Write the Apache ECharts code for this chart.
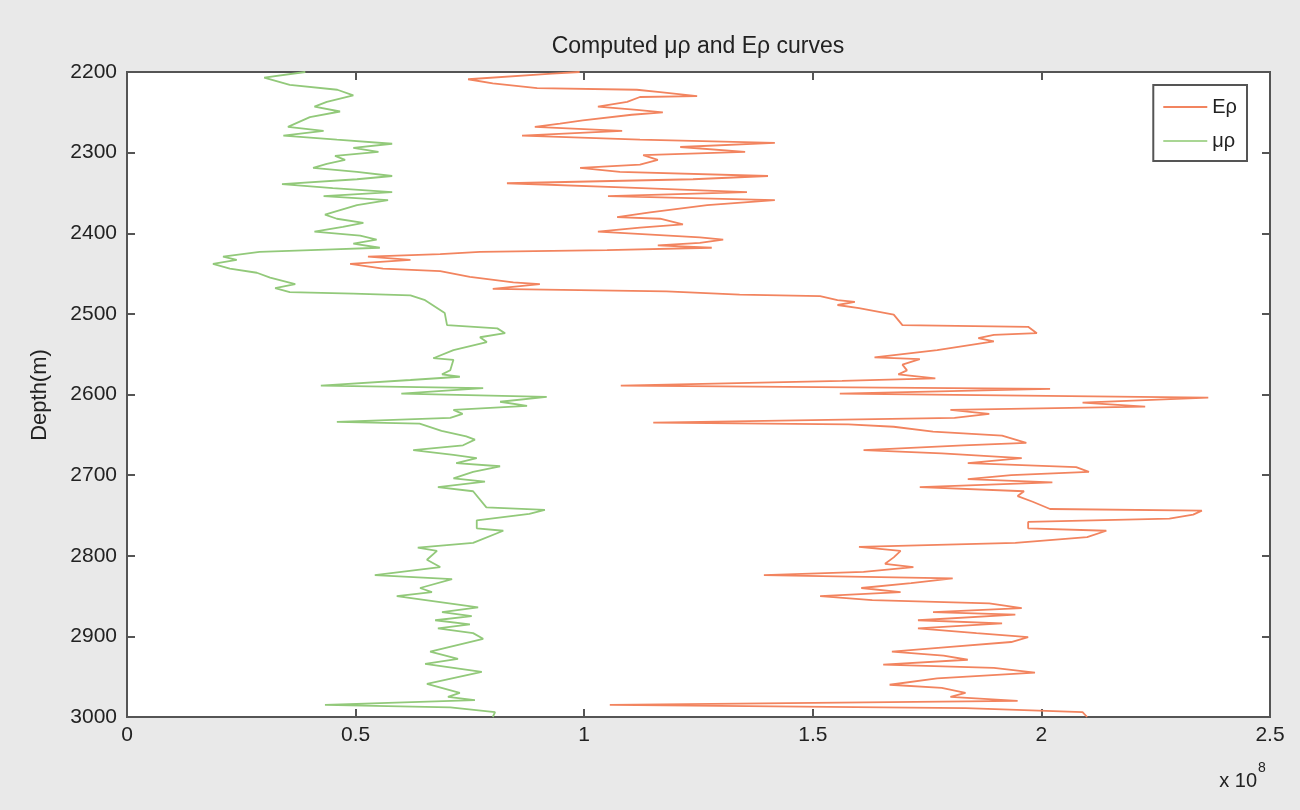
<!DOCTYPE html>
<html>
<head>
<meta charset="utf-8">
<script src="https://cdn.jsdelivr.net/npm/echarts@6/dist/echarts.min.js"></script>
<style>
html,body{margin:0;padding:0;background:#e9e9e9;}
#chart{width:1300px;height:810px;}
</style>
</head>
<body>
<div id="chart"></div>
<script>
// Values in units of 1e8 (axis shows "x 10^8"), depth in metres
const xTicks = [0, 0.5, 1, 1.5, 2, 2.5];
const yTicks = [2200, 2300, 2400, 2500, 2600, 2700, 2800, 2900, 3000];

const eDepth = [2200,2202,2209,2214,2220,2222,2225,2230,2231,2237,2243,2247,2250,2253,2260,2264,2268,2273,2279,2284,2288,2293,2299,2303,2309,2315,2319,2324,2329,2333,2338,2343,2349,2354,2359,2365,2374,2380,2382,2389,2393,2398,2405,2408,2412,2415,2418,2421,2423,2426,2429,2433,2438,2444,2447,2454,2461,2463,2469,2472,2476,2478,2483,2485,2489,2493,2501,2514,2516,2524,2526,2530,2534,2545,2554,2556,2563,2570,2575,2580,2583,2589,2593,2599,2604,2610,2615,2619,2624,2629,2635,2637,2640,2646,2651,2660,2663,2669,2673,2679,2685,2690,2696,2700,2705,2709,2715,2720,2726,2733,2742,2744,2749,2754,2758,2766,2769,2777,2784,2789,2794,2802,2810,2814,2820,2824,2828,2834,2840,2845,2850,2855,2859,2865,2870,2873,2880,2884,2890,2896,2901,2907,2913,2919,2924,2929,2935,2939,2945,2952,2960,2964,2970,2975,2980,2985,2989,2994,3000];
const eVal = [0.99,0.93,0.746,0.80,0.897,1.115,1.166,1.247,1.122,1.094,1.03,1.115,1.172,1.104,0.997,0.947,0.892,1.083,0.864,1.122,1.417,1.21,1.352,1.129,1.161,1.122,0.991,1.078,1.402,1.238,0.831,1.083,1.356,1.052,1.417,1.269,1.144,1.072,1.166,1.216,1.122,1.03,1.253,1.304,1.253,1.161,1.279,1.05,0.772,0.685,0.527,0.62,0.488,0.56,0.685,0.75,0.845,0.903,0.80,1.18,1.34,1.516,1.554,1.592,1.554,1.601,1.677,1.696,1.971,1.990,1.896,1.862,1.896,1.772,1.635,1.734,1.696,1.706,1.687,1.768,1.564,1.080,2.019,1.559,2.365,2.090,2.227,1.801,1.886,1.810,1.151,1.578,1.677,1.763,1.914,1.967,1.829,1.611,1.782,1.957,1.839,2.076,2.104,1.934,1.839,2.024,1.734,1.962,1.948,1.981,2.019,2.351,2.332,2.280,1.971,1.971,2.142,2.100,1.943,1.601,1.692,1.677,1.658,1.720,1.611,1.393,1.806,1.715,1.606,1.692,1.516,1.630,1.886,1.957,1.763,1.943,1.730,1.914,1.730,1.858,1.971,1.934,1.801,1.673,1.786,1.839,1.654,1.896,1.986,1.772,1.668,1.782,1.834,1.801,1.948,1.056,1.834,2.090,2.10];

const muDepth = [2200,2207,2216,2222,2229,2237,2243,2249,2256,2268,2273,2279,2284,2289,2294,2299,2304,2309,2314,2319,2324,2329,2333,2339,2344,2349,2354,2359,2365,2377,2382,2387,2392,2398,2403,2408,2413,2418,2420,2423,2429,2433,2438,2444,2449,2455,2463,2468,2473,2475,2477,2483,2487,2499,2514,2518,2524,2529,2535,2545,2555,2557,2570,2575,2578,2582,2589,2592,2599,2603,2609,2614,2619,2624,2629,2634,2636,2645,2652,2656,2663,2669,2675,2679,2685,2689,2696,2704,2708,2715,2720,2740,2743,2748,2756,2766,2769,2784,2790,2794,2805,2814,2824,2829,2840,2845,2850,2864,2870,2875,2880,2885,2890,2896,2903,2919,2928,2934,2944,2959,2970,2975,2979,2985,2988,2994,3000];
const muVal = [0.39,0.30,0.356,0.46,0.495,0.437,0.41,0.466,0.40,0.352,0.43,0.342,0.459,0.58,0.495,0.55,0.455,0.477,0.437,0.407,0.503,0.58,0.503,0.339,0.45,0.58,0.43,0.571,0.503,0.433,0.459,0.517,0.472,0.41,0.51,0.546,0.495,0.553,0.45,0.29,0.21,0.24,0.188,0.225,0.284,0.313,0.368,0.324,0.356,0.495,0.62,0.652,0.663,0.695,0.70,0.81,0.827,0.772,0.787,0.714,0.67,0.714,0.707,0.689,0.728,0.62,0.424,0.779,0.60,0.918,0.816,0.875,0.714,0.734,0.707,0.459,0.64,0.688,0.742,0.761,0.735,0.626,0.714,0.765,0.72,0.816,0.757,0.714,0.783,0.68,0.757,0.786,0.914,0.88,0.765,0.765,0.823,0.757,0.636,0.678,0.656,0.685,0.542,0.711,0.641,0.667,0.59,0.768,0.689,0.754,0.674,0.75,0.68,0.757,0.779,0.663,0.724,0.652,0.776,0.656,0.728,0.702,0.761,0.433,0.707,0.805,0.80];

const pair = (v, d) => v.map((x, i) => [x, d[i]]);

const chart = echarts.init(document.getElementById('chart'), null, {renderer: 'canvas'});
const FONT = 'Liberation Sans, Arial, Helvetica, sans-serif';
const AX = '#555555';

const mkLine = () => ({show: true, onZero: false, lineStyle: {color: AX, width: 2}});
const mkTick = (inside) => ({show: true, inside: inside, length: 8, lineStyle: {color: AX, width: 2}});
const gridRect = {left: 127, right: 30, top: 72, bottom: 93};

chart.setOption({
  animation: false,
  backgroundColor: '#e9e9e9',
  grid: [
    Object.assign({show: true, backgroundColor: '#ffffff', borderColor: AX, borderWidth: 2}, gridRect),
    Object.assign({show: false}, gridRect)
  ],
  legend: {
    data: ['Eρ', 'μρ'],
    orient: 'vertical',
    right: 53, top: 85,
    padding: [12, 10, 10, 10],
    itemGap: 14,
    itemWidth: 44, itemHeight: 2,
    icon: 'rect',
    backgroundColor: '#ffffff',
    borderColor: AX, borderWidth: 2,
    textStyle: {fontFamily: FONT, fontSize: 20, color: '#222'}
  },
  xAxis: [
    {type: 'value', gridIndex: 0, position: 'bottom', min: 0, max: 2.5, interval: 0.5,
      axisLine: mkLine(), splitLine: {show: false}, axisTick: mkTick(true),
      axisLabel: {fontFamily: FONT, fontSize: 21, color: '#222', margin: 8, formatter: v => String(v)}},
    {type: 'value', gridIndex: 1, position: 'top', min: 0, max: 2.5, interval: 0.5,
      axisLine: mkLine(), splitLine: {show: false}, axisTick: mkTick(true),
      axisLabel: {show: false}}
  ],
  yAxis: [
    {type: 'value', gridIndex: 0, position: 'left', inverse: true, min: 2200, max: 3000, interval: 100,
      axisLine: mkLine(), splitLine: {show: false}, axisTick: mkTick(true),
      axisLabel: {fontFamily: FONT, fontSize: 21, color: '#222', margin: 10, formatter: v => String(v)}},
    {type: 'value', gridIndex: 1, position: 'right', inverse: true, min: 2200, max: 3000, interval: 100,
      axisLine: mkLine(), splitLine: {show: false}, axisTick: mkTick(true),
      axisLabel: {show: false}},
    // tick-only axis that sits on the zero line of the x axis (the left edge), ticks pointing into the plot
    {type: 'value', gridIndex: 0, position: 'right', inverse: true, min: 2200, max: 3000, interval: 100,
      axisLine: {show: false, onZero: true}, splitLine: {show: false}, axisTick: mkTick(false),
      axisLabel: {show: false}}
  ],
  series: [
    {name: 'Eρ', type: 'line', xAxisIndex: 0, yAxisIndex: 0, data: pair(eVal, eDepth),
      showSymbol: false, symbol: 'none', lineStyle: {color: '#f2845f', width: 1.8}, itemStyle: {color: '#f2845f'}},
    {name: 'μρ', type: 'line', xAxisIndex: 0, yAxisIndex: 0, data: pair(muVal, muDepth),
      showSymbol: false, symbol: 'none', lineStyle: {color: '#92c97a', width: 1.8}, itemStyle: {color: '#a9d694'}}
  ],
  graphic: [
    {type: 'text', x: 698, y: 47, style: {text: 'Computed μρ and Eρ curves', textAlign: 'center', textVerticalAlign: 'middle', fontFamily: FONT, fontSize: 23, fill: '#222'}, z: 10},
    {type: 'text', rotation: Math.PI / 2, x: 40, y: 395, style: {text: 'Depth(m)', textAlign: 'center', textVerticalAlign: 'middle', fontFamily: FONT, fontSize: 22, fill: '#222'}, z: 10},
    {type: 'text', x: 1257, y: 781, style: {text: 'x 10', textAlign: 'right', textVerticalAlign: 'middle', fontFamily: FONT, fontSize: 20, fill: '#222'}, z: 10},
    {type: 'text', x: 1258, y: 768, style: {text: '8', textAlign: 'left', textVerticalAlign: 'middle', fontFamily: FONT, fontSize: 14, fill: '#222'}, z: 10}
  ]
});
</script>
</body>
</html>
